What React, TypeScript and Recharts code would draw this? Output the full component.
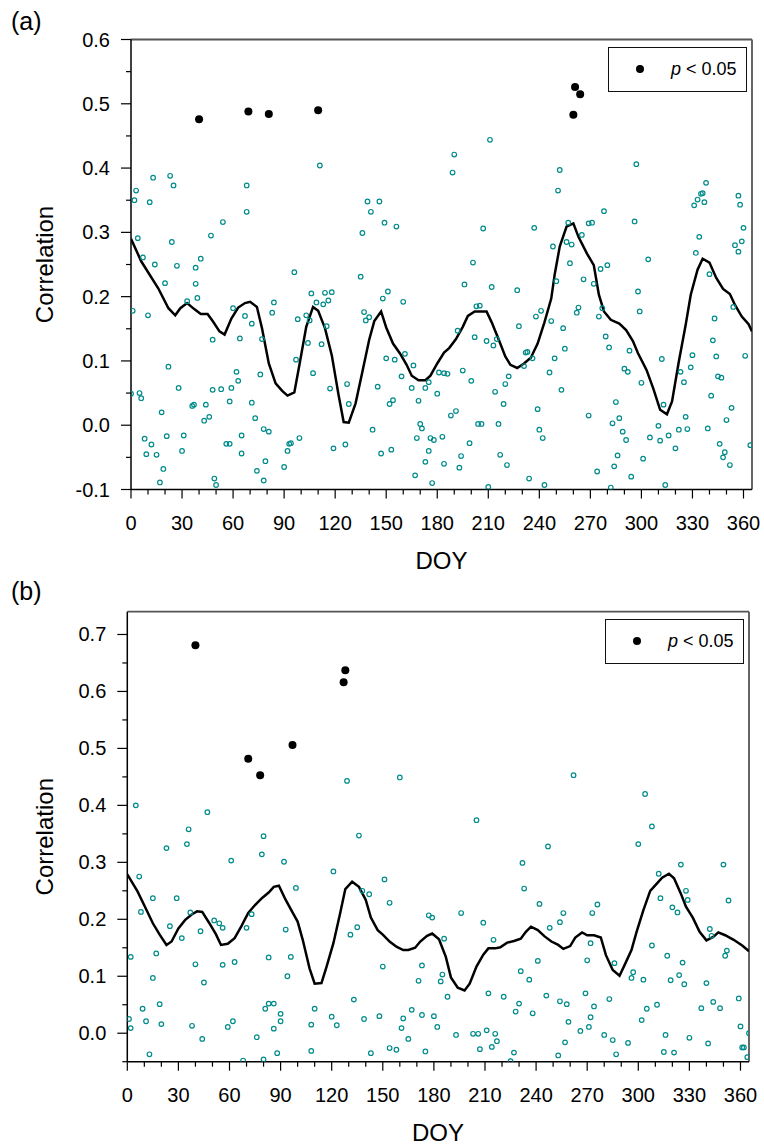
import { ComposedChart, Scatter, Line, XAxis, YAxis, ReferenceLine } from 'recharts'

const FONT = '"Liberation Sans", Arial, Helvetica, sans-serif'
const TEAL = '#008b8b'

type Pt = [number, number] // [DOY, correlation]

const xTicks = [0, 10, 20, 30, 40, 50, 60, 70, 80, 90, 100, 110, 120, 130, 140, 150, 160, 170, 180, 190, 200, 210, 220, 230, 240, 250, 260, 270, 280, 290, 300, 310, 320, 330, 340, 350, 360]
const yTicksA = [-0.1, -0.05, 0, 0.05, 0.1, 0.15, 0.2, 0.25, 0.3, 0.35, 0.4, 0.45, 0.5, 0.55, 0.6]
const yTicksB = [-0.05, 0, 0.05, 0.1, 0.15, 0.2, 0.25, 0.3, 0.35, 0.4, 0.45, 0.5, 0.55, 0.6, 0.65, 0.7]

// (a) daily correlations, not significant
const openA: Pt[] = [
  [3, 0.365], [2, 0.35], [13, 0.385], [23, 0.388], [25, 0.373], [11, 0.347], [68, 0.373], [68, 0.332], [54, 0.316], [47, 0.295],
  [4, 0.291], [24, 0.285], [7, 0.261], [14, 0.25], [27, 0.248], [41, 0.259], [38, 0.245], [20, 0.221], [38, 0.22], [39, 0.198],
  [33, 0.193], [1, 0.178], [10, 0.171], [60, 0.182], [67, 0.17], [71, 0.158], [84, 0.191], [83, 0.175], [48, 0.133], [64, 0.135],
  [77, 0.134], [22, 0.091], [62, 0.083], [63, 0.069], [76, 0.079], [28, 0.058], [48, 0.055], [53, 0.056], [59, 0.058], [0, 0.049],
  [5, 0.05], [6, 0.042], [58, 0.037], [71, 0.035], [18, 0.02], [36, 0.03], [37, 0.032], [44, 0.032], [46, 0.013], [43, 0.007],
  [73, 0.011], [78, -0.006], [81, -0.01], [8, -0.021], [21, -0.017], [31, -0.016], [65, -0.016], [12, -0.03], [9, -0.045], [15, -0.046],
  [30, -0.04], [56, -0.029], [58, -0.029], [65, -0.044], [92, -0.04], [93, -0.029], [19, -0.068], [74, -0.071], [79, -0.056], [90, -0.065],
  [17, -0.089], [49, -0.083], [50, -0.093], [78, -0.086],
  [111, 0.404], [139, 0.348], [146, 0.348], [141, 0.332], [149, 0.315], [156, 0.309], [136, 0.299], [96, 0.238], [135, 0.231], [106, 0.205],
  [114, 0.206], [118, 0.207], [116, 0.194], [113, 0.188], [109, 0.191], [151, 0.208], [148, 0.197], [160, 0.192], [137, 0.176], [138, 0.163],
  [140, 0.168], [98, 0.165], [103, 0.171], [105, 0.163], [115, 0.154], [104, 0.128], [112, 0.126], [97, 0.102], [150, 0.104], [155, 0.102],
  [161, 0.111], [166, 0.093], [107, 0.081], [159, 0.076], [181, 0.082], [184, 0.081], [117, 0.057], [127, 0.064], [145, 0.06], [165, 0.058],
  [173, 0.058], [175, 0.067], [180, 0.049], [128, 0.033], [152, 0.033], [154, 0.039], [169, 0.038], [170, 0.002], [171, -0.005], [142, -0.007],
  [99, -0.02], [94, -0.028], [168, -0.02], [176, -0.02], [178, -0.023], [183, -0.018], [119, -0.036], [126, -0.03], [147, -0.044], [153, -0.038],
  [175, -0.04], [173, -0.057], [184, -0.06], [167, -0.078], [177, -0.09],
  [211, 0.444], [190, 0.421], [189, 0.393], [252, 0.397], [251, 0.365], [207, 0.306], [237, 0.307], [257, 0.315], [269, 0.314], [271, 0.315],
  [248, 0.278], [256, 0.285], [259, 0.281], [265, 0.296], [258, 0.252], [201, 0.253], [196, 0.219], [212, 0.215], [227, 0.21], [250, 0.224],
  [266, 0.227], [272, 0.22], [203, 0.185], [205, 0.186], [202, 0.137], [209, 0.131], [213, 0.124], [215, 0.134], [192, 0.147], [228, 0.154],
  [238, 0.169], [241, 0.178], [247, 0.162], [254, 0.151], [262, 0.175], [263, 0.183], [275, 0.169], [232, 0.113], [233, 0.114], [236, 0.104],
  [231, 0.092], [255, 0.119], [249, 0.104], [186, 0.08], [195, 0.085], [200, 0.069], [222, 0.076], [220, 0.064], [246, 0.082], [253, 0.055],
  [214, 0.052], [219, 0.033], [188, 0.015], [191, 0.022], [204, 0.002], [206, 0.002], [216, 0.002], [239, 0.025], [269, 0.015], [199, -0.028],
  [240, -0.007], [242, -0.02], [194, -0.048], [193, -0.066], [217, -0.046], [221, -0.062], [234, -0.083], [243, -0.093], [210, -0.096], [274, -0.072],
  [297, 0.406], [278, 0.333], [296, 0.317], [331, 0.342], [333, 0.351], [335, 0.36], [336, 0.361], [338, 0.377], [337, 0.347], [357, 0.357],
  [358, 0.343], [360, 0.307], [334, 0.293], [332, 0.268], [355, 0.28], [357, 0.27], [359, 0.286], [304, 0.258], [276, 0.243], [280, 0.249],
  [340, 0.235], [298, 0.208], [299, 0.177], [277, 0.182], [354, 0.184], [343, 0.166], [279, 0.138], [281, 0.121], [342, 0.132], [344, 0.107],
  [361, 0.108], [293, 0.116], [312, 0.103], [330, 0.109], [290, 0.088], [292, 0.083], [300, 0.066], [323, 0.083], [329, 0.09], [325, 0.067],
  [345, 0.076], [347, 0.074], [341, 0.046], [285, 0.036], [313, 0.032], [353, 0.027], [287, 0.011], [283, 0.003], [289, -0.01], [291, -0.023],
  [310, -0.001], [326, 0.013], [327, -0.006], [322, -0.007], [316, -0.016], [311, -0.024], [305, -0.019], [320, -0.036], [339, -0.005], [350, 0.008],
  [346, -0.029], [349, -0.042], [348, -0.05], [352, -0.062], [364, -0.031], [284, -0.064], [286, -0.047], [301, -0.052], [294, -0.08], [282, -0.097],
  [314, -0.093],
]

// (a) p < 0.05
const sigA: Pt[] = [[40, 0.476], [69, 0.488], [81, 0.484], [110, 0.49], [261, 0.526], [264, 0.515], [260, 0.483]]

// (a) smoothed curve
const meanA: Pt[] = [
  [0, 0.29], [6, 0.255], [16, 0.213], [22, 0.182], [26, 0.171], [29, 0.182], [33, 0.19], [37, 0.181], [41, 0.173], [45, 0.173],
  [48, 0.162], [52, 0.146], [55, 0.141], [59, 0.166], [63, 0.183], [67, 0.19], [70, 0.192], [74, 0.184], [77, 0.151], [81, 0.096],
  [85, 0.065], [89, 0.053], [92, 0.046], [96, 0.051], [99, 0.094], [103, 0.153], [107, 0.184], [110, 0.178], [114, 0.151], [118, 0.109],
  [122, 0.047], [125, 0.005], [128, 0.004], [132, 0.034], [136, 0.083], [140, 0.133], [143, 0.162], [147, 0.177], [150, 0.152], [154, 0.127],
  [158, 0.112], [162, 0.094], [165, 0.077], [169, 0.07], [173, 0.07], [176, 0.077], [180, 0.096], [184, 0.113], [187, 0.12], [191, 0.134],
  [195, 0.153], [198, 0.17], [202, 0.177], [209, 0.177], [212, 0.16], [216, 0.134], [220, 0.107], [223, 0.094], [227, 0.089], [231, 0.096],
  [235, 0.105], [239, 0.127], [243, 0.16], [247, 0.197], [249, 0.234], [252, 0.278], [256, 0.309], [260, 0.314], [263, 0.293], [268, 0.267],
  [272, 0.249], [275, 0.203], [278, 0.177], [282, 0.164], [287, 0.158], [291, 0.148], [295, 0.131], [298, 0.112], [303, 0.086], [307, 0.057],
  [311, 0.024], [315, 0.017], [318, 0.037], [322, 0.099], [326, 0.156], [329, 0.203], [333, 0.242], [336, 0.259], [340, 0.253], [344, 0.229],
  [348, 0.212], [352, 0.204], [355, 0.187], [359, 0.169], [363, 0.157], [365, 0.146],
]

// (b) daily correlations, not significant
const openB: Pt[] = [
  [5, 0.4], [47, 0.388], [36, 0.358], [35, 0.332], [23, 0.325], [80, 0.346], [79, 0.314], [61, 0.303], [92, 0.301], [7, 0.275],
  [15, 0.237], [29, 0.237], [8, 0.213], [37, 0.212], [25, 0.188], [32, 0.167], [43, 0.179], [51, 0.198], [54, 0.193], [56, 0.185],
  [70, 0.185], [73, 0.209], [93, 0.182], [2, 0.134], [17, 0.14], [40, 0.121], [56, 0.12], [63, 0.125], [83, 0.133], [15, 0.097],
  [45, 0.089], [9, 0.043], [19, 0.051], [83, 0.052], [86, 0.052], [81, 0.043], [90, 0.034], [1, 0.025], [2, 0.009], [11, 0.021],
  [20, 0.016], [38, 0.013], [62, 0.021], [59, 0.011], [90, 0.021], [86, 0.008], [76, -0.007], [44, -0.01], [13, -0.037], [88, -0.035],
  [68, -0.048], [80, -0.046],
  [129, 0.443], [160, 0.449], [136, 0.347], [121, 0.284], [151, 0.27], [99, 0.255], [138, 0.25], [142, 0.244], [154, 0.229], [177, 0.207],
  [179, 0.203], [131, 0.173], [135, 0.186], [96, 0.134], [94, 0.1], [150, 0.117], [173, 0.119], [171, 0.092], [184, 0.091], [133, 0.059],
  [110, 0.043], [108, 0.015], [120, 0.029], [123, 0.014], [139, 0.025], [148, 0.03], [162, 0.026], [161, 0.009], [167, 0.041], [173, 0.032],
  [180, 0.03], [182, 0.011], [165, -0.01], [108, -0.031], [143, -0.035], [154, -0.026], [158, -0.029], [175, -0.032],
  [262, 0.453], [205, 0.374], [247, 0.328], [232, 0.299], [233, 0.254], [242, 0.227], [196, 0.211], [209, 0.194], [256, 0.211], [254, 0.195],
  [248, 0.185], [273, 0.211], [186, 0.166], [215, 0.164], [272, 0.158], [241, 0.127], [270, 0.128], [231, 0.109], [185, 0.103], [236, 0.094],
  [188, 0.064], [212, 0.07], [221, 0.064], [246, 0.066], [254, 0.056], [258, 0.051], [269, 0.07], [228, 0.038], [230, 0.052], [238, 0.035],
  [274, 0.047], [259, 0.02], [272, 0.028], [271, 0.011], [266, 0.004], [193, -0.003], [203, -0.001], [206, -0.001], [211, 0.005], [216, -0.001],
  [217, -0.014], [214, -0.024], [207, -0.028], [257, -0.016], [227, -0.034], [253, -0.039], [225, -0.049],
  [304, 0.42], [308, 0.363], [300, 0.332], [325, 0.296], [350, 0.296], [312, 0.28], [328, 0.25], [329, 0.234], [313, 0.237], [353, 0.233],
  [320, 0.221], [323, 0.212], [276, 0.226], [342, 0.183], [343, 0.171], [308, 0.154], [317, 0.136], [326, 0.124], [352, 0.145], [351, 0.136],
  [286, 0.123], [297, 0.107], [296, 0.097], [303, 0.094], [319, 0.093], [324, 0.102], [327, 0.086], [340, 0.088], [283, 0.06], [359, 0.061],
  [305, 0.043], [311, 0.05], [302, 0.023], [337, 0.044], [344, 0.055], [348, 0.044], [360, 0.012], [365, 0], [280, -0.003], [285, -0.012],
  [316, -0.003], [330, -0.008], [294, -0.017], [341, -0.018], [361, -0.025], [362, -0.025], [287, -0.037], [315, -0.033], [321, -0.034], [364, -0.042],
]

// (b) p < 0.05
const sigB: Pt[] = [[40, 0.681], [71, 0.482], [78, 0.453], [97, 0.506], [128, 0.637], [127, 0.616]]

// (b) smoothed curve
const meanB: Pt[] = [
  [0, 0.279], [6, 0.249], [11, 0.218], [15, 0.193], [19, 0.173], [23, 0.155], [26, 0.161], [30, 0.184], [34, 0.199], [38, 0.209],
  [41, 0.214], [44, 0.213], [48, 0.194], [52, 0.174], [55, 0.155], [59, 0.157], [63, 0.167], [67, 0.188], [71, 0.211], [75, 0.225],
  [79, 0.237], [83, 0.247], [86, 0.257], [89, 0.259], [93, 0.234], [97, 0.212], [100, 0.196], [103, 0.164], [107, 0.114], [110, 0.087],
  [114, 0.088], [117, 0.117], [121, 0.158], [125, 0.211], [128, 0.253], [132, 0.266], [136, 0.257], [140, 0.234], [143, 0.203], [147, 0.181],
  [150, 0.173], [154, 0.161], [158, 0.152], [162, 0.146], [165, 0.146], [169, 0.15], [172, 0.161], [176, 0.171], [179, 0.175], [183, 0.165],
  [187, 0.134], [190, 0.098], [194, 0.08], [198, 0.075], [201, 0.087], [205, 0.117], [209, 0.138], [212, 0.149], [216, 0.149], [219, 0.151],
  [223, 0.159], [227, 0.162], [231, 0.166], [234, 0.178], [237, 0.187], [241, 0.181], [245, 0.17], [249, 0.161], [253, 0.155], [256, 0.148],
  [260, 0.153], [263, 0.168], [267, 0.177], [270, 0.172], [274, 0.172], [278, 0.168], [281, 0.137], [285, 0.111], [289, 0.101], [292, 0.12],
  [296, 0.146], [299, 0.178], [303, 0.216], [307, 0.25], [311, 0.263], [314, 0.273], [318, 0.28], [321, 0.272], [325, 0.245], [328, 0.222],
  [332, 0.203], [336, 0.178], [340, 0.163], [344, 0.169], [347, 0.177], [351, 0.172], [356, 0.164], [361, 0.154], [365, 0.144],
]

const toRows = (pts: Pt[]) => pts.map(([day, r]) => ({ day, r }))

function XTick({ x, y, payload }: any) {
  const major = payload.value % 30 === 0
  return (
    <g>
      <line x1={x} y1={y} x2={x} y2={y + (major ? 9 : 5)} stroke="#000" strokeWidth={1.2} />
      {major && (
        <text x={x} y={y + 40} textAnchor="middle" fontSize={20} fontFamily={FONT} fill="#000">
          {payload.value}
        </text>
      )}
    </g>
  )
}

function YTick({ x, y, payload }: any) {
  const v = payload.value
  const major = Math.abs(v * 10 - Math.round(v * 10)) < 1e-6
  return (
    <g>
      <line x1={x - (major ? 10 : 5)} y1={y} x2={x} y2={y} stroke="#000" strokeWidth={1.2} />
      {major && (
        <text x={x - 21} y={y + 7} textAnchor="end" fontSize={20} fontFamily={FONT} fill="#000">
          {v.toFixed(1)}
        </text>
      )}
    </g>
  )
}

const OpenDot = (p: any) => <circle cx={p.cx} cy={p.cy} r={2.3} fill="none" stroke={TEAL} strokeWidth={1.2} />
const SigDot = (p: any) => <circle cx={p.cx} cy={p.cy} r={4} fill="#000" />

function Panel({ top, height, padTop, padBottom, left, right, yDomain, yTicks, open, sig, mean }: any) {
  return (
    <div style={{ position: 'absolute', left: 0, top }}>
      <ComposedChart width={764} height={height} margin={{ top: padTop, right: 764 - right, bottom: padBottom, left: 0 }}>
        <XAxis
          dataKey="day"
          type="number"
          domain={[0, 365]}
          ticks={xTicks}
          interval={0}
          allowDataOverflow
          height={40}
          tickSize={0}
          tickMargin={0}
          tickLine={false}
          tick={(p: any) => <XTick {...p} />}
          axisLine={{ stroke: '#000', strokeWidth: 1.5 }}
        />
        <YAxis
          type="number"
          domain={yDomain}
          ticks={yTicks}
          interval={0}
          allowDataOverflow
          width={left}
          tickSize={0}
          tickMargin={0}
          tickLine={false}
          tick={(p: any) => <YTick {...p} />}
          axisLine={{ stroke: '#000', strokeWidth: 1.5 }}
        />
        <ReferenceLine y={yDomain[1]} stroke="#555" strokeWidth={1.8} />
        <ReferenceLine x={365} stroke="#555" strokeWidth={1.8} />
        <Scatter data={toRows(open)} dataKey="r" shape={OpenDot} isAnimationActive={false} />
        <Line data={toRows(mean)} dataKey="r" type="linear" stroke="#000" strokeWidth={2.5} dot={false} isAnimationActive={false} />
        <Scatter data={toRows(sig)} dataKey="r" shape={SigDot} isAnimationActive={false} />
      </ComposedChart>
    </div>
  )
}

function PLegend({ left, top }: { left: number; top: number }) {
  return (
    <div
      style={{
        position: 'absolute',
        left,
        top,
        width: 139,
        height: 45,
        boxSizing: 'border-box',
        border: '1.5px solid #111',
        background: '#fff',
        fontFamily: FONT,
        fontSize: 18,
        color: '#000',
      }}
    >
      <span style={{ position: 'absolute', left: 27, top: 17, width: 8, height: 8, borderRadius: 4, background: '#000' }} />
      <span style={{ position: 'absolute', left: 62, top: 10, lineHeight: '22px', whiteSpace: 'nowrap' }}>
        <i>p</i> &lt; 0.05
      </span>
    </div>
  )
}

export default function App() {
  return (
    <div style={{ position: 'absolute', left: 0, top: 0, width: 764, height: 1148, background: '#fff' }}>
      <Panel top={0} height={580} padTop={39.5} padBottom={50.5} left={131} right={752}
        yDomain={[-0.1, 0.6]} yTicks={yTicksA} open={openA} sig={sigA} mean={meanA} />
      <Panel top={560} height={588} padTop={51.7} padBottom={46.3} left={127.3} right={749}
        yDomain={[-0.05, 0.74]} yTicks={yTicksB} open={openB} sig={sigB} mean={meanB} />
      <PLegend left={608} top={47} />
      <PLegend left={605} top={619} />
      <svg width={764} height={1148} style={{ position: 'absolute', left: 0, top: 0, pointerEvents: 'none' }}>
        <g fontFamily={FONT} fill="#000">
          <text x={11} y={30} fontSize={25}>(a)</text>
          <text x={11} y={600} fontSize={25}>(b)</text>
          <text x={44} y={264.5} dy={8.7} fontSize={24} textAnchor="middle" transform="rotate(-90 44 264.5)">Correlation</text>
          <text x={44} y={836.7} dy={8.7} fontSize={24} textAnchor="middle" transform="rotate(-90 44 836.7)">Correlation</text>
          <text x={441.5} y={569} fontSize={24} textAnchor="middle">DOY</text>
          <text x={438} y={1140.7} fontSize={24} textAnchor="middle">DOY</text>
        </g>
      </svg>
    </div>
  )
}
